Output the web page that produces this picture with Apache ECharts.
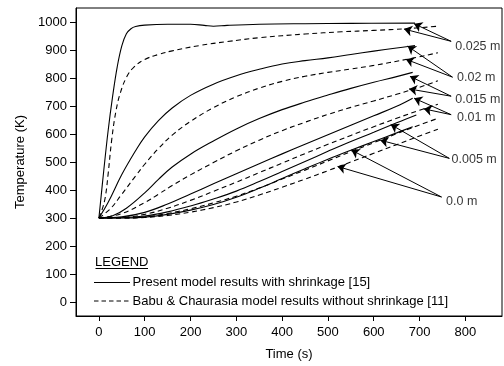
<!DOCTYPE html>
<html>
<head>
<meta charset="utf-8">
<script src="https://cdn.jsdelivr.net/npm/echarts@6/dist/echarts.min.js"></script>
<style>
html,body{margin:0;padding:0;background:#fff;}
#c{width:504px;height:366px;}
</style>
</head>
<body>
<div id="c"></div>
<script>
// ---- data (time s, temperature K) ----
const xTicks = [0,100,200,300,400,500,600,700,800];
const yTicks = [0,100,200,300,400,500,600,700,800,900,1000];

const solid025 = [[0,300],[5,380],[10,460],[20,610],[30,735],[40,840],[50,915],[60,958],[70,976],[80,984],[100,989],[150,992],[200,992],[230,988],[250,985],[280,988],[350,992],[450,994],[550,995],[690,996]];
const dash025  = [[0,300],[7,330],[14,375],[20,455],[28,580],[37,680],[47,748],[61,805],[76,838],[100,866],[130,884],[160,897],[220,916],[280,930],[350,944],[450,957],[530,965],[600,970],[670,976],[740,985]];
const solid020 = [[0,300],[20,355],[50,455],[80,540],[100,590],[130,648],[160,693],[200,738],[250,778],[300,808],[350,831],[400,850],[450,862],[500,872],[550,884],[600,896],[650,907],[690,916]];
const dash020  = [[0,300],[25,333],[50,385],[80,450],[100,492],[130,548],[160,596],[200,645],[250,694],[300,733],[350,764],[400,788],[450,806],[500,820],[550,832],[600,845],[670,866],[740,890]];
const solid015 = [[0,300],[30,308],[60,335],[100,390],[130,438],[160,482],[200,528],[250,575],[300,618],[350,655],[400,687],[450,714],[500,739],[550,763],[600,785],[650,805],[685,820]];
const dash015  = [[0,300],[50,316],[100,355],[130,385],[160,416],[200,454],[250,498],[300,540],[350,578],[400,612],[450,642],[500,670],[550,695],[600,718],[650,742],[700,767],[740,790]];
const solid010 = [[0,300],[50,304],[100,320],[150,350],[200,386],[250,422],[300,458],[350,494],[400,529],[450,563],[500,597],[550,631],[600,665],[650,699],[685,728]];
const dash010  = [[0,300],[50,302],[100,313],[150,335],[200,363],[250,395],[300,428],[350,462],[400,496],[450,530],[500,563],[550,595],[600,626],[650,656],[700,685],[740,706]];
const solid005 = [[0,300],[50,301],[100,307],[150,322],[200,343],[250,368],[300,396],[350,430],[400,466],[450,502],[500,538],[550,573],[600,606],[650,640],[693,668]];
const dash005  = [[0,300],[50,300],[100,304],[150,316],[200,333],[250,354],[300,378],[350,407],[400,439],[450,471],[500,504],[550,537],[600,569],[650,601],[700,632],[740,656]];
const solid000 = [[0,300],[50,300],[100,303],[150,313],[200,328],[250,348],[300,374],[350,406],[400,441],[450,476],[500,510],[550,542],[600,573],[650,604],[685,626]];
const dash000  = [[0,300],[50,300],[100,302],[150,309],[200,321],[250,337],[300,357],[350,382],[400,410],[450,439],[500,469],[550,500],[600,531],[650,562],[700,593],[740,617]];

// annotation labels and arrows (data coordinates)
const annoLabels = ['0.025 m','0.02 m','0.015 m','0.01 m','0.005 m','0.0 m'];
const annoLabelPos = [[778,914],[782,800],[778,722],[782,658],[770,507],[758,358]];
const annoOrigins = [[769,931],[772,803],[769,735],[769,669],[765,513],[748,375]];
const annoTips = [
  [[688,994],[666,975]],
  [[674,914],[670,867]],
  [[679,806],[677,761]],
  [[688,728],[709,690]],
  [[637,634],[614,578]],
  [[551,543],[521,484]]
];

const solidName = 'Present model results with shrinkage [15]';
const dashName = 'Babu & Chaurasia model results without shrinkage [11]';

const FONT = '"Liberation Sans", Arial, Helvetica, sans-serif';
const chart = echarts.init(document.getElementById('c'), null, {renderer:'canvas'});

function curve(name, data, dashed){
  return {
    type:'line', name:name, data:data, symbol:'none', showSymbol:false,
    smooth:0.4, silent:true, animation:false,
    lineStyle:{color:'#000', width:1.1, type: dashed ? [5,3.5] : 'solid'},
    itemStyle:{color:'#000'}
  };
}

const arrowLines = [];
annoOrigins.forEach((o,i)=>{
  annoTips[i].forEach(t=>{ arrowLines.push({coords:[o, t]}); });
});

const series = [
  curve(solidName, solid025, false), curve(dashName, dash025, true),
  curve(solidName, solid020, false), curve(dashName, dash020, true),
  curve(solidName, solid015, false), curve(dashName, dash015, true),
  curve(solidName, solid010, false), curve(dashName, dash010, true),
  curve(solidName, solid005, false), curve(dashName, dash005, true),
  curve(solidName, solid000, false), curve(dashName, dash000, true),
  {
    type:'lines', coordinateSystem:'cartesian2d', silent:true, animation:false,
    symbol:['none','arrow'], symbolSize:[1,8],
    lineStyle:{color:'#000', width:1, opacity:1, curveness:0},
    itemStyle:{color:'#000'},
    data: arrowLines
  },
  {
    type:'scatter', name:'anno', silent:true, animation:false,
    symbolSize:0,
    data: annoLabels.map((l,i)=>({name:l, value:annoLabelPos[i]})),
    label:{show:true, position:'right', distance:0, formatter:'{b}', color:'#000', fontFamily:FONT, fontSize:12.5}
  }
];

chart.setOption({
  animation:false,
  backgroundColor:'#fff',
  grid:{left:76, right:2, top:8, bottom:47, show:true, borderColor:'#000', borderWidth:1, backgroundColor:'transparent'},
  xAxis:{
    type:'value', min:-50, max:880,
    name:'Time (s)', nameLocation:'middle', nameGap:32,
    nameTextStyle:{fontFamily:FONT, fontSize:13, color:'#000'},
    axisLine:{show:true, onZero:false, lineStyle:{color:'#000', width:1}},
    axisTick:{show:true, length:5, inside:false, customValues:xTicks, lineStyle:{color:'#000'}},
    axisLabel:{customValues:xTicks, margin:10, fontFamily:FONT, fontSize:13, color:'#000'},
    splitLine:{show:false}
  },
  yAxis:{
    type:'value', min:-50, max:1050,
    name:'Temperature (K)', nameLocation:'middle', nameGap:46, nameRotate:90,
    nameTextStyle:{fontFamily:FONT, fontSize:13, color:'#000'},
    axisLine:{show:true, onZero:false, lineStyle:{color:'#000', width:1}},
    axisTick:{show:true, length:6, inside:false, customValues:yTicks, lineStyle:{color:'#000'}},
    axisLabel:{customValues:yTicks, margin:9, fontFamily:FONT, fontSize:13, color:'#000', formatter:v=>String(v)},
    splitLine:{show:false}
  },
  graphic:[
    {type:'text', left:95, top:256, style:{text:'LEGEND', font:'13px ' + FONT, fill:'#000'}},
    {type:'line', shape:{x1:95.5, y1:268.5, x2:148, y2:268.5}, style:{stroke:'#000', lineWidth:1}},
    {type:'line', shape:{x1:94, y1:282.5, x2:130, y2:282.5}, style:{stroke:'#000', lineWidth:1}},
    {type:'text', x:132.5, y:282.5, style:{text:solidName, font:'13px ' + FONT, fill:'#000', textVerticalAlign:'middle', verticalAlign:'middle'}},
    {type:'line', shape:{x1:94, y1:301, x2:130, y2:301}, style:{stroke:'#000', lineWidth:1, lineDash:[4.5,3]}},
    {type:'text', x:132.5, y:301, style:{text:dashName, font:'13px ' + FONT, fill:'#000', textVerticalAlign:'middle', verticalAlign:'middle'}}
  ],
  series:series
});
</script>
</body>
</html>
